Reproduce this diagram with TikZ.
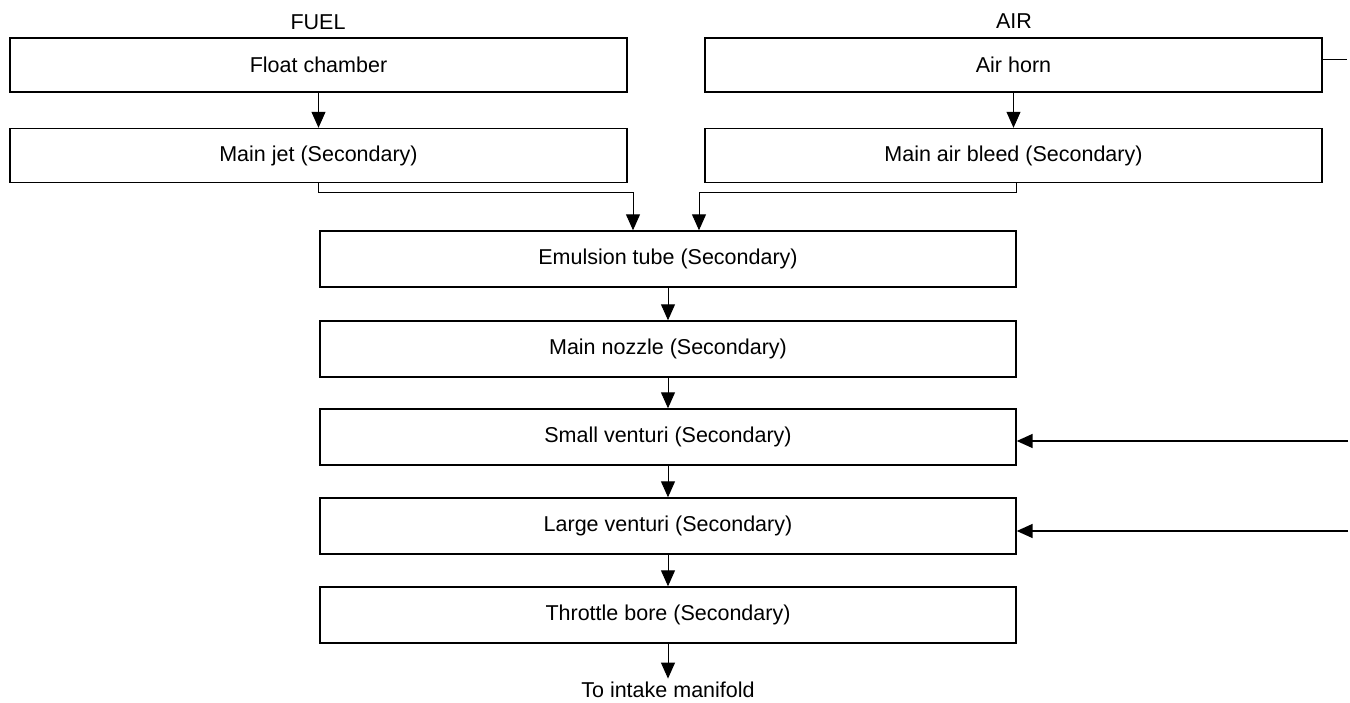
\documentclass[tikz,border=0pt]{standalone}
\usepackage{fontspec}
\setmainfont{Liberation Sans}
\usepackage{tikz}
\usetikzlibrary{positioning,calc,arrows.meta}

\begin{document}
\begin{tikzpicture}[x=1pt, y=-1pt, ->, >={Triangle[length=16pt, width=14pt]}, font=\fontsize{21.5}{25}\selectfont, side/.style = {rectangle, draw, line width=1.4pt, minimum width=617pt, minimum height=54pt, inner sep=0pt}, stage/.style = {rectangle, draw, line width=1.4pt, minimum width=696pt, minimum height=56pt, inner sep=0pt}, every edge/.append style={line width=1pt}]

\useasboundingbox (0,0) rectangle (1350,703);

\node (fuel) at (318,22) {FUEL};
\node (air) at (1014,21) {AIR};
\node[side, fill=white] (fc) at (318.5,65) {Float chamber};
\node[side, fill=white] (mj) at (318.5,155.5) {Main jet (Secondary)};
\node[side, fill=white] (ah) at (1013.5,65) {Air horn};
\node[side, fill=white] (ab) at (1013.5,155.5) {Main air bleed (Secondary)};
\node[stage, fill=white] (et) at (668,259) {Emulsion tube (Secondary)};
\node[stage, fill=white] (mn) at (668,349) {Main nozzle (Secondary)};
\node[stage, fill=white] (sv) at (668,437) {Small venturi (Secondary)};
\node[stage, fill=white] (lv) at (668,526) {Large venturi (Secondary)};
\node[stage, fill=white] (tb) at (668,615) {Throttle bore (Secondary)};
\node (out) at (668,690) {To intake manifold};

\coordinate (ahout) at (1347,60);
\coordinate (svin) at (1348,441);
\coordinate (lvin) at (1348,531);

\path
 (fc) edge (mj)
 (ah) edge (ab)
 (et) edge (mn)
 (mn) edge (sv)
 (sv) edge (lv)
 (lv) edge (tb)
 (tb) edge (out);

\draw[line width=1pt] (mj.south) -- ++(0,9) -| ([xshift=-35pt]et.north);
\draw[line width=1pt] ([xshift=2.5pt]ab.south) -- ++(0,9) -| ([xshift=31pt]et.north);
\draw[-, line width=1pt] (ah.east |- ahout) -- (ahout);
\draw[line width=1.6pt] (svin) -- (sv.east |- svin);
\draw[line width=1.6pt] (lvin) -- (lv.east |- lvin);
\end{tikzpicture}
\end{document}
